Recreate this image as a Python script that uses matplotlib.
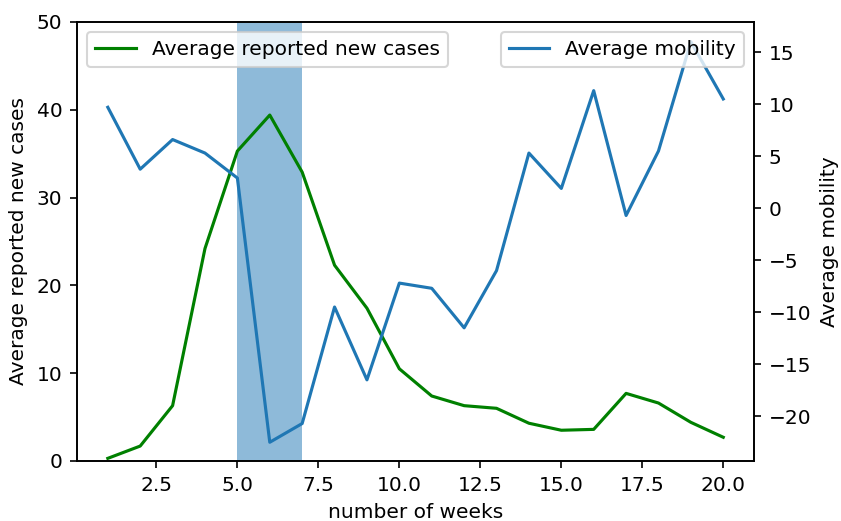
import matplotlib
matplotlib.use("Agg")
import matplotlib.pyplot as plt

# semanas
weeks = list(range(1, 21))

# media de novos casos reportados (eixo esquerdo)
new_cases = [0.3, 1.7, 6.3, 24.2, 35.3, 39.4, 32.9, 22.3, 17.4, 10.5,
             7.4, 6.3, 6.0, 4.3, 3.5, 3.6, 7.7, 6.6, 4.4, 2.7]

# media de mobilidade (eixo direito)
mobility = [9.7, 3.75, 6.6, 5.3, 2.9, -22.5, -20.7, -9.5, -16.5, -7.2,
            -7.7, -11.5, -6.0, 5.3, 1.9, 11.3, -0.7, 5.5, 16.0, 10.5]

# periodo destacado
span_start, span_end = 5, 7


def main():
    plt.rcParams['font.size'] = 9.7
    fig, ax1 = plt.subplots(figsize=(841 / 150, 521 / 150), dpi=150)
    fig.subplots_adjust(left=0.0916, right=0.8966, top=0.9578, bottom=0.1152)

    ax1.axvspan(span_start, span_end, alpha=0.5)
    ax1.plot(weeks, new_cases, color='green', label='Average reported new cases')
    ax1.set_ylim(0, 50)
    ax1.set_xlabel('number of weeks')
    ax1.set_ylabel('Average reported new cases')
    ax1.legend(loc='upper left')

    ax2 = ax1.twinx()
    ax2.plot(weeks, mobility, color='C0', label='Average mobility')
    ax2.set_ylim(-24.3, 17.9)
    ax2.set_ylabel('Average mobility')
    ax2.legend(loc='upper right')

    fig.savefig('out.png', dpi=150)


if __name__ == "__main__":
    main()
